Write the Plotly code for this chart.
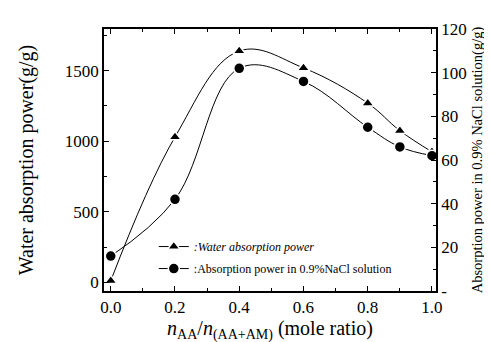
import plotly.graph_objects as go

mole_ratio = [0.0, 0.2, 0.4, 0.6, 0.8, 0.9, 1.0]
water_absorption = [10, 1030, 1640, 1520, 1270, 1075, 925]
nacl_absorption = [16, 42, 102, 96, 75, 66, 62]

left_ticks = [0, 500, 1000, 1500]
right_ticks = [0, 20, 40, 60, 80, 100, 120]
right_ticktext = ["-", "20", "40", "60", "80", "100", "120"]
x_ticks = [0.0, 0.2, 0.4, 0.6, 0.8, 1.0]
x_ticktext = ["0.0", "0.2", "0.4", "0.6", "0.8", "1.0"]

FONT = "Liberation Serif"

fig = go.Figure()
fig.add_trace(go.Scatter(
    x=mole_ratio, y=water_absorption, name="<i>:Water absorption power</i>",
    legendgroup="a",
    mode="lines+markers", line=dict(color="black", width=1, shape="spline", smoothing=1.1),
    marker=dict(symbol="triangle-up", size=11, color="black", line=dict(color="white", width=1.5)),
))
fig.add_trace(go.Scatter(
    x=mole_ratio, y=nacl_absorption, name=":Absorption power in 0.9%NaCl solution",
    yaxis="y2", legendgroup="b",
    mode="lines+markers", line=dict(color="black", width=1, shape="spline", smoothing=1.1),
    marker=dict(symbol="circle", size=11, color="black", line=dict(color="white", width=1.5)),
))

fig.update_layout(
    width=492, height=342,
    margin=dict(l=96, r=64, t=12, b=59),
    paper_bgcolor="white", plot_bgcolor="white",
    font=dict(family=FONT, color="black"),
    showlegend=True,
    legend=dict(x=0.15, y=0.225, xanchor="left", yanchor="top",
                bgcolor="rgba(0,0,0,0)", font=dict(size=12, family=FONT),
                itemwidth=30, tracegroupgap=3),
    xaxis=dict(
        range=[-0.021, 1.0125], tickvals=x_ticks, ticktext=x_ticktext,
        showline=True, linecolor="black", linewidth=1.5, mirror="ticks",
        ticks="inside", ticklen=5, tickcolor="black",
        minor=dict(ticks="inside", ticklen=3, dtick=0.1, tickcolor="black"),
        showgrid=False, zeroline=False,
        tickfont=dict(size=17, family=FONT),
        title=dict(text="<i>n</i><sub>AA</sub>/<i>n</i><sub>(AA+AM)</sub> (mole ratio)",
                   font=dict(size=20, family=FONT), standoff=0),
    ),
    yaxis=dict(
        range=[-62, 1796], tickvals=left_ticks,
        showline=True, linecolor="black", linewidth=1.5, mirror=False,
        ticks="inside", ticklen=5, tickcolor="black",
        minor=dict(ticks="inside", ticklen=3, dtick=250, tickcolor="black"),
        showgrid=False, zeroline=False,
        tickfont=dict(size=17, family=FONT),
        title=dict(text="Water absorption power(g/g)", font=dict(size=20, family=FONT), standoff=26),
    ),
    yaxis2=dict(
        range=[0, 120], tickvals=right_ticks, ticktext=right_ticktext,
        overlaying="y", side="right",
        showline=True, linecolor="black", linewidth=1.5,
        ticks="inside", ticklen=5, tickcolor="black",
        minor=dict(ticks="inside", ticklen=3, dtick=10, tickcolor="black"),
        showgrid=False, zeroline=False,
        tickfont=dict(size=17, family=FONT),
        title=dict(text="Absorption power in 0.9% NaCl solution(g/g)", font=dict(size=14.5, family=FONT), standoff=6),
    ),
)

fig.write_html("out.html")
